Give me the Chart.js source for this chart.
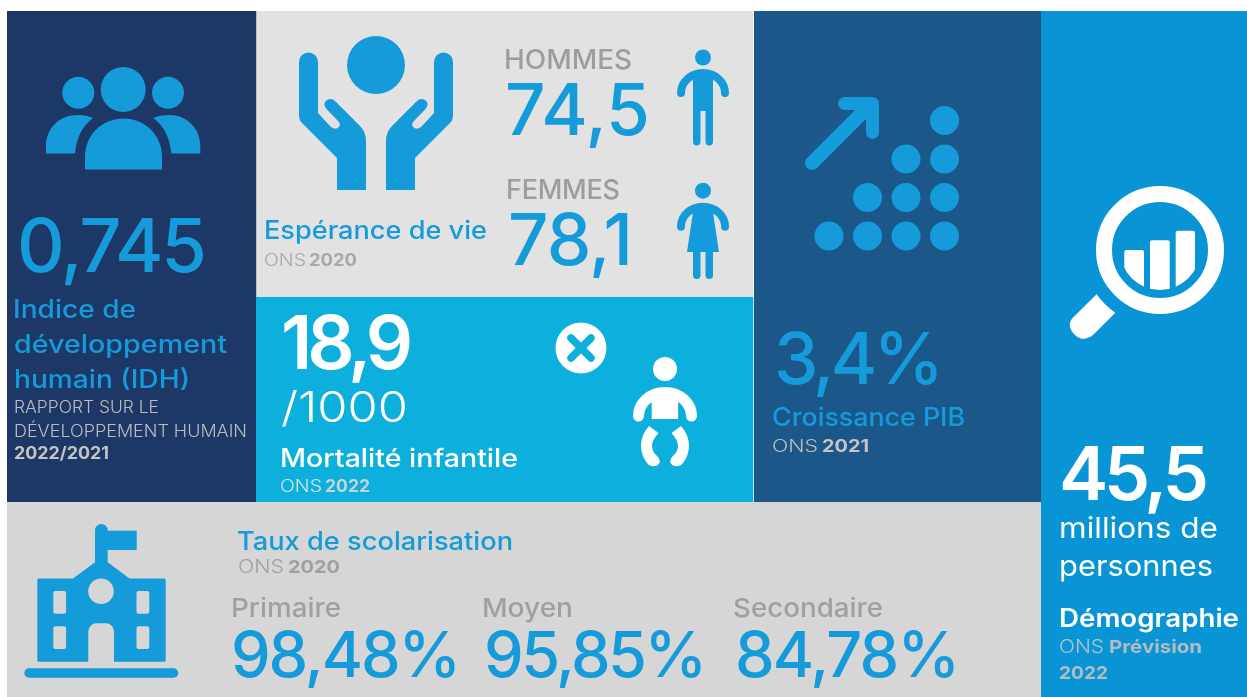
<!DOCTYPE html>
<html lang="fr">
<head>
<meta charset="utf-8">
<title>Indicateurs</title>
<script src="https://cdn.jsdelivr.net/npm/chart.js@4"></script>
<style>
  html, body { margin: 0; padding: 0; background: #fff; }
  canvas { display: block; }
</style>
</head>
<body>
<canvas id="board" width="1247" height="697"></canvas>
<script>
// valeurs
const headlineValues = [0.745, 18.9, 3.4, 45.5];
const lifeLabels = ["HOMMES", "FEMMES"];
const lifeValues = [74.5, 78.1];
const schoolLabels = ["Primaire", "Moyen", "Secondaire"];
const schoolValues = [98.48, 95.85, 84.78];
const growthDots = [1, 2, 3, 4];

const BLUE = "#159bd9";
const FONT = "Inter";
const fmt = (v, d) => v.toFixed(d).replace(".", ",");

// texte ajuste a une largeur cible : on etire si trop court, on resserre si trop long
const tx = (ctx, text, x, y, size, weight, color, width) => {
  ctx.font = `${weight} ${size}px ${FONT}`;
  ctx.letterSpacing = "0px";
  ctx.textAlign = "left";
  ctx.textBaseline = "alphabetic";
  ctx.fillStyle = color;
  const w = ctx.measureText(text).width;
  if (w < width) {
    ctx.save();
    ctx.translate(x, y);
    ctx.scale(width / w, 1);
    ctx.fillText(text, 0, 0);
    ctx.restore();
    return;
  }
  ctx.letterSpacing = `${(width - w) / (text.length - 1)}px`;
  ctx.fillText(text, x, y);
  ctx.letterSpacing = "0px";
};

const circle = (ctx, x, y, r, color) => {
  ctx.fillStyle = color;
  ctx.beginPath();
  ctx.arc(x, y, r, 0, Math.PI * 2);
  ctx.fill();
};

const poly = (ctx, pts, color) => {
  ctx.fillStyle = color;
  ctx.beginPath();
  pts.forEach((p, i) => (i ? ctx.lineTo(p[0], p[1]) : ctx.moveTo(p[0], p[1])));
  ctx.closePath();
  ctx.fill();
};

const rrect = (ctx, x, y, w, h, r, color) => {
  ctx.fillStyle = color;
  ctx.beginPath();
  ctx.roundRect(x, y, w, h, r);
  ctx.fill();
};

// icone groupe
const drawPeople = (ctx) => {
  circle(ctx, 78.3, 92.7, 16, BLUE);
  circle(ctx, 123.2, 89.5, 22.5, BLUE);
  circle(ctx, 168, 92.7, 16, BLUE);
  ctx.fillStyle = BLUE;
  ctx.beginPath();
  ctx.moveTo(85, 169.5);
  ctx.lineTo(85, 157);
  ctx.bezierCurveTo(85, 135, 102, 118.5, 123.5, 118.5);
  ctx.bezierCurveTo(145, 118.5, 162, 135, 162, 157);
  ctx.lineTo(162, 169.5);
  ctx.closePath();
  ctx.fill();
  [0, 1].forEach((side) => {
    ctx.save();
    if (side) {
      ctx.translate(246.3, 0);
      ctx.scale(-1, 1);
    }
    ctx.beginPath();
    ctx.moveTo(46, 153.5);
    ctx.lineTo(46, 146);
    ctx.bezierCurveTo(46, 128, 60, 115, 77, 115);
    ctx.quadraticCurveTo(87, 115, 93, 118);
    ctx.quadraticCurveTo(77, 130, 75, 153.5);
    ctx.closePath();
    ctx.fill();
    ctx.restore();
  });
};

// icone mains + cercle
const drawHands = (ctx) => {
  circle(ctx, 376, 65, 29, BLUE);
  [0, 1].forEach((side) => {
    ctx.save();
    if (side) {
      ctx.translate(752, 0);
      ctx.scale(-1, 1);
    }
    ctx.fillStyle = BLUE;
    ctx.beginPath();
    ctx.moveTo(299, 62);
    ctx.arc(308.5, 62, 9.5, Math.PI, 0);
    ctx.lineTo(318, 113);
    ctx.lineTo(330, 126);
    ctx.quadraticCurveTo(335, 131, 339, 127);
    ctx.quadraticCurveTo(341, 124, 338, 121);
    ctx.lineTo(326.5, 109);
    ctx.quadraticCurveTo(322, 103, 327, 100);
    ctx.quadraticCurveTo(332, 97, 336, 102);
    ctx.lineTo(360, 126);
    ctx.quadraticCurveTo(366, 132, 366, 141);
    ctx.lineTo(366, 190);
    ctx.lineTo(337, 190);
    ctx.lineTo(337, 158);
    ctx.lineTo(302, 123);
    ctx.quadraticCurveTo(299, 120, 299, 115);
    ctx.closePath();
    ctx.fill();
    ctx.restore();
  });
};

const drawArms = (ctx, cx, cy, rx, ry, lw, color) => {
  ctx.strokeStyle = color;
  ctx.lineWidth = lw;
  ctx.lineCap = "round";
  ctx.beginPath();
  ctx.ellipse(cx, cy, rx, ry, 0, Math.PI, Math.PI * 2);
  ctx.stroke();
  ctx.lineCap = "butt";
};

const drawMan = (ctx) => {
  circle(ctx, 703, 57.5, 8, BLUE);
  drawArms(ctx, 703, 93, 22, 20, 8, BLUE);
  ctx.fillStyle = BLUE;
  ctx.fillRect(693, 72, 20, 39);
  rrect(ctx, 693, 105, 7.5, 40.5, 3.7, BLUE);
  rrect(ctx, 705.5, 105, 7.5, 40.5, 3.7, BLUE);
};

const drawWoman = (ctx) => {
  circle(ctx, 703, 190.7, 8, BLUE);
  drawArms(ctx, 703, 226.7, 22, 20, 8, BLUE);
  poly(ctx, [[694, 206], [712, 206], [719, 252], [687, 252]], BLUE);
  rrect(ctx, 693, 248, 7.5, 31, 3.7, BLUE);
  rrect(ctx, 705.5, 248, 7.5, 31, 3.7, BLUE);
};

// icone bebe
const drawBaby = (ctx) => {
  const c = "#ffffff";
  circle(ctx, 581, 348, 25.5, c);
  ctx.strokeStyle = "#0db0dd";
  ctx.lineWidth = 7.5;
  ctx.lineCap = "round";
  ctx.beginPath();
  ctx.moveTo(571, 338); ctx.lineTo(591, 358);
  ctx.moveTo(591, 338); ctx.lineTo(571, 358);
  ctx.stroke();
  ctx.lineCap = "butt";
  circle(ctx, 665, 369, 12, c);
  drawArms(ctx, 665, 416, 26.5, 23.5, 11, c);
  ctx.fillStyle = c;
  ctx.fillRect(651.7, 395, 26.4, 24);
  [0, 1].forEach((side) => {
    ctx.save();
    if (side) {
      ctx.translate(1330, 0);
      ctx.scale(-1, 1);
    }
    ctx.fillStyle = c;
    ctx.beginPath();
    ctx.moveTo(649, 426);
    ctx.lineTo(658.5, 433);
    ctx.quadraticCurveTo(652, 440, 652, 446);
    ctx.quadraticCurveTo(652, 452, 658, 457);
    ctx.quadraticCurveTo(662, 462, 657, 465.5);
    ctx.quadraticCurveTo(651, 468, 647, 463);
    ctx.quadraticCurveTo(641, 455, 641, 446);
    ctx.quadraticCurveTo(641, 435, 649, 426);
    ctx.closePath();
    ctx.fill();
    ctx.restore();
  });
};

// fleche de croissance
const drawArrow = (ctx) => {
  ctx.strokeStyle = BLUE;
  ctx.lineCap = "round";
  ctx.lineJoin = "round";
  ctx.lineWidth = 14;
  ctx.beginPath();
  ctx.moveTo(812, 163);
  ctx.lineTo(868, 107);
  ctx.stroke();
  ctx.lineWidth = 13;
  ctx.beginPath();
  ctx.moveTo(844.5, 103.5);
  ctx.lineTo(872.5, 103.5);
  ctx.lineTo(872.5, 132.5);
  ctx.stroke();
  ctx.lineCap = "butt";
};

// loupe
const drawLens = (ctx) => {
  const c = "#ffffff";
  ctx.strokeStyle = c;
  ctx.lineWidth = 16;
  ctx.beginPath();
  ctx.arc(1160, 250, 56, 0, Math.PI * 2);
  ctx.stroke();
  ctx.fillStyle = c;
  ctx.beginPath();
  ctx.moveTo(1096.7, 294.3);
  ctx.quadraticCurveTo(1104, 305, 1115.3, 312.7);
  ctx.lineTo(1093, 335);
  ctx.quadraticCurveTo(1082, 343, 1074, 334);
  ctx.quadraticCurveTo(1066, 325, 1073, 317.5);
  ctx.closePath();
  ctx.fill();
  ctx.save();
  ctx.beginPath();
  ctx.arc(1160, 250, 40, 0, Math.PI * 2);
  ctx.clip();
  rrect(ctx, 1124.3, 250, 19.7, 50, [2, 2, 0, 0], c);
  rrect(ctx, 1150, 240.3, 19.7, 60, [2, 2, 0, 0], c);
  rrect(ctx, 1175.7, 230.7, 19.3, 70, [2, 2, 0, 0], c);
  ctx.restore();
};

// icone ecole
const drawSchool = (ctx) => {
  const bg = "#d6d6d6";
  ctx.save();
  ctx.translate(0, 500);
  rrect(ctx, 95, 24, 12.7, 50, [6.3, 6.3, 0, 0], BLUE);
  ctx.fillStyle = BLUE;
  ctx.fillRect(107, 30.7, 29.7, 19.3);
  poly(ctx, [[95, 62.3], [107.7, 62.3], [129.5, 78.5], [129.5, 80], [73, 80], [73, 78.5]], BLUE);
  rrect(ctx, 37.3, 78.5, 128.4, 83.2, 1.5, BLUE);
  circle(ctx, 101, 91.3, 12.8, bg);
  rrect(ctx, 88.3, 123.3, 25.7, 39, [8, 8, 0, 0], bg);
  [53.3, 136.5].forEach((x) => {
    rrect(ctx, x, 91, 12.8, 22.7, 2, bg);
    rrect(ctx, x, 126.3, 12.8, 22.7, 2, bg);
  });
  rrect(ctx, 24.3, 168.3, 154, 9.4, 4.7, BLUE);
  ctx.restore();
};

const boardPlugin = {
  id: "board",
  beforeDatasetsDraw(chart) {
    const { ctx, scales } = chart;
    const rect = (x0, y0, x1, y1, color) => {
      const px = scales.x.getPixelForValue(x0);
      const py = scales.y.getPixelForValue(y0);
      ctx.fillStyle = color;
      ctx.fillRect(px, py, scales.x.getPixelForValue(x1) - px, scales.y.getPixelForValue(y1) - py);
    };
    rect(7, 11, 256.5, 502, "#1d3866");
    rect(256.5, 11, 753.3, 297, "#e2e2e2");
    rect(256, 297, 753.3, 502, "#0db0dd");
    rect(754, 11, 1041, 502, "#1b5789");
    rect(7, 502, 1041, 697, "#d6d6d6");
    rect(1041, 11, 1247, 697, "#0995d5");
  },
  afterDatasetsDraw(chart) {
    const { ctx } = chart;
    ctx.save();
    drawPeople(ctx);
    drawHands(ctx);
    drawMan(ctx);
    drawWoman(ctx);
    drawBaby(ctx);
    drawArrow(ctx);
    drawLens(ctx);
    drawSchool(ctx);

    // IDH
    tx(ctx, fmt(headlineValues[0], 3), 17, 272, 74, 500, BLUE, 190);
    tx(ctx, "Indice de", 13, 318, 25, 500, BLUE, 123);
    tx(ctx, "développement", 14, 353, 25, 500, BLUE, 213);
    tx(ctx, "humain (IDH)", 14, 388, 25, 500, BLUE, 176);
    tx(ctx, "RAPPORT SUR LE", 14, 413, 17, 300, "#bdbdbd", 145);
    tx(ctx, "DÉVELOPPEMENT HUMAIN", 14, 437, 17, 300, "#bdbdbd", 233);
    tx(ctx, "2022/2021", 14, 459, 17, 700, "#c4c4c4", 95);

    // esperance de vie
    tx(ctx, "Espérance de vie", 264, 239, 25, 500, BLUE, 223);
    tx(ctx, "ONS", 264, 266, 17, 300, "#a8a8a8", 42);
    tx(ctx, "2020", 309, 266, 17, 700, "#a8a8a8", 48);
    tx(ctx, lifeLabels[0], 504, 69, 27, 500, "#9d9d9d", 128);
    tx(ctx, fmt(lifeValues[0], 1), 505, 135, 71, 500, BLUE, 145);
    tx(ctx, lifeLabels[1], 506, 199, 27, 500, "#9d9d9d", 114);
    tx(ctx, fmt(lifeValues[1], 1), 508, 265, 71, 500, BLUE, 125);

    // mortalite
    tx(ctx, fmt(headlineValues[1], 1), 281, 369, 74, 600, "#ffffff", 132);
    tx(ctx, "/1000", 281, 422, 42, 300, "#ffffff", 127);
    tx(ctx, "Mortalité infantile", 280, 467, 25, 500, "#ffffff", 238);
    tx(ctx, "ONS", 280, 492, 17, 300, "#d7e4ea", 42);
    tx(ctx, "2022", 325, 492, 17, 700, "#c8d3d8", 45);

    // PIB
    tx(ctx, `${fmt(headlineValues[2], 1)}%`, 774, 384, 71, 500, BLUE, 170);
    tx(ctx, "Croissance PIB", 772, 426, 25, 500, BLUE, 193);
    tx(ctx, "ONS", 772, 452, 17, 300, "#bdbdbd", 46);
    tx(ctx, "2021", 822, 452, 17, 700, "#c4c4c4", 47);

    // demographie
    tx(ctx, fmt(headlineValues[3], 1), 1059, 500, 74, 600, "#ffffff", 150);
    tx(ctx, "millions de", 1059, 538, 29, 400, "#ffffff", 159);
    tx(ctx, "personnes", 1059, 576, 29, 400, "#ffffff", 154);
    tx(ctx, "Démographie", 1059, 627, 25, 600, "#ffffff", 180);
    tx(ctx, "ONS", 1059, 653, 18, 300, "#b5c2c9", 45);
    tx(ctx, "Prévision", 1109, 653, 18, 700, "#b5bcc0", 93);
    tx(ctx, "2022", 1059, 679, 18, 700, "#b5bcc0", 49);

    // scolarisation
    tx(ctx, "Taux de scolarisation", 237, 550, 25, 500, BLUE, 276);
    tx(ctx, "ONS", 238, 573, 18, 300, "#a0a0a0", 46);
    tx(ctx, "2020", 288, 573, 18, 700, "#a0a0a0", 52);
    const labelX = [231, 482, 733];
    const labelW = [110, 91, 150];
    const valueX = [231, 484, 735];
    const valueW = [230, 223, 225];
    schoolLabels.forEach((label, i) => {
      tx(ctx, label, labelX[i], 617, 26, 500, "#a0a0a0", labelW[i]);
      tx(ctx, `${fmt(schoolValues[i], 2)}%`, valueX[i], 677, 63, 500, BLUE, valueW[i]);
    });
    ctx.restore();
  },
};

// les points de croissance, par colonne
const dotLeft = 829;
const dotStep = 38.5;
const dotBottom = 236;
const dotData = [];
growthDots.forEach((count, col) => {
  for (let j = 0; j < count; j++) {
    dotData.push({ x: dotLeft + col * dotStep, y: dotBottom - j * dotStep });
  }
});

new Chart(document.getElementById("board").getContext("2d"), {
  type: "scatter",
  data: {
    datasets: [
      {
        data: dotData,
        backgroundColor: BLUE,
        borderWidth: 0,
        pointRadius: 14.5,
        pointHoverRadius: 14.5,
      },
    ],
  },
  options: {
    responsive: false,
    animation: false,
    events: [],
    layout: { padding: 0, autoPadding: false },
    plugins: { legend: { display: false }, tooltip: { enabled: false } },
    scales: {
      x: { type: "linear", display: false, min: 0, max: 1247 },
      y: { type: "linear", display: false, min: 0, max: 697, reverse: true },
    },
  },
  plugins: [boardPlugin],
});
</script>
</body>
</html>
